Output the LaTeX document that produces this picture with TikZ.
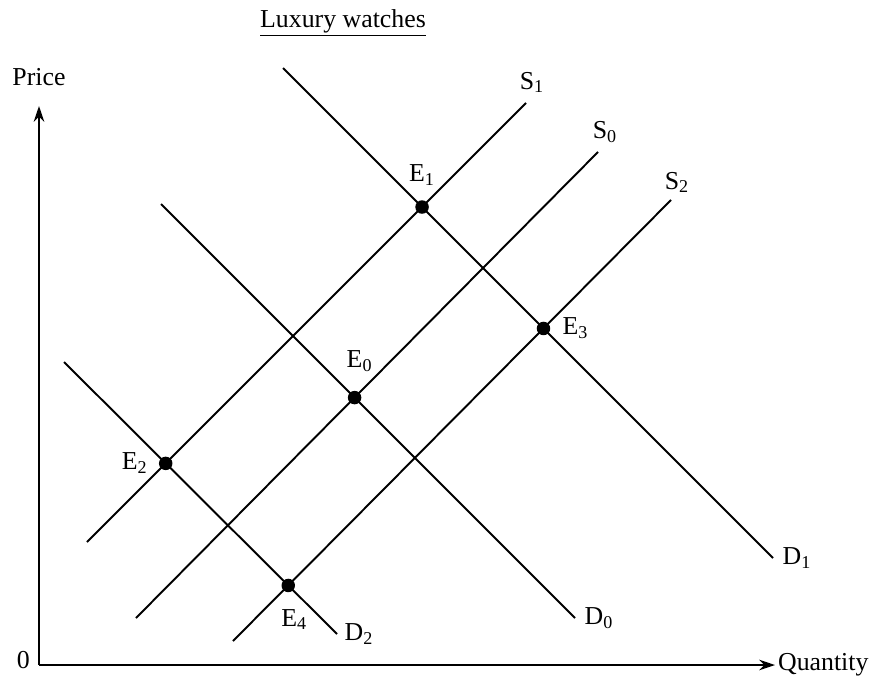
\documentclass[tikz,border=0pt]{standalone}
\usepackage{fontspec}
\setmainfont{Liberation Serif}
\usetikzlibrary{positioning, arrows.meta}

\begin{document}
\begin{tikzpicture}[
    x=0.02cm, y=-0.02cm,
    curve/.style = {line width=1.1pt},
    axis/.style  = {line width=1.1pt, -{Stealth[length=9pt, width=6pt]}},
    eq/.style    = {circle, fill, inner sep=0pt, minimum size=0.27cm},
    lbl/.style   = {inner sep=1pt, font=\fontsize{14.7}{17}\selectfont}
]
\useasboundingbox (0,0) rectangle (874,679);

% Achsen
\coordinate (O)    at (39,665);
\coordinate (ytop) at (39,106);
\coordinate (xend) at (775,665);
\draw[axis] (O) -- (ytop);
\draw[axis] (O) -- (xend);

% Endpunkte der Kurven
\coordinate (d1s) at (283,68);   \coordinate (d1e) at (773,558);
\coordinate (d0s) at (161,204);  \coordinate (d0e) at (575,618);
\coordinate (d2s) at (64,362);   \coordinate (d2e) at (337,634);
\coordinate (s1s) at (87,542);   \coordinate (s1e) at (526,103);
\coordinate (s0s) at (136,618);  \coordinate (s0e) at (598,152);
\coordinate (s2s) at (233,641);  \coordinate (s2e) at (671,200);

% Nachfrage und Angebot
\draw[curve] (d1s) -- (d1e);
\draw[curve] (d0s) -- (d0e);
\draw[curve] (d2s) -- (d2e);
\draw[curve] (s1s) -- (s1e);
\draw[curve] (s0s) -- (s0e);
\draw[curve] (s2s) -- (s2e);

% Gleichgewichte
\node[eq] (E0) at (intersection of d0s--d0e and s0s--s0e) {};
\node[eq] (E1) at (intersection of d1s--d1e and s1s--s1e) {};
\node[eq] (E2) at (intersection of d2s--d2e and s1s--s1e) {};
\node[eq] (E3) at (intersection of d1s--d1e and s2s--s2e) {};
\node[eq] (E4) at (intersection of d2s--d2e and s2s--s2e) {};

% Beschriftungen
\node[lbl] (title) at (343,23) {\underline{Luxury watches}};
\node[lbl, above=0.36cm of ytop] (price) {Price};
\node[lbl, left=0.14cm of O, yshift=0.1cm] (zero) {0};
\node[lbl, right=0.02cm of xend] (qty) {Quantity};

\node[lbl, above=0.25cm of E1]              (E1l) {E\textsubscript{1}};
\node[lbl, above=0.33cm of E0, xshift=0.1cm] (E0l) {E\textsubscript{0}};
\node[lbl, right=0.2cm of E3]               (E3l) {E\textsubscript{3}};
\node[lbl, left=0.18cm of E2]               (E2l) {E\textsubscript{2}};
\node[lbl, below=0.29cm of E4, xshift=0.12cm] (E4l) {E\textsubscript{4}};

\node[lbl, above=0.16cm of s1e, xshift=0.12cm] (S1l) {S\textsubscript{1}};
\node[lbl, above=0.14cm of s0e, xshift=0.14cm] (S0l) {S\textsubscript{0}};
\node[lbl, above=0.1cm of s2e, xshift=0.12cm]  (S2l) {S\textsubscript{2}};
\node[lbl, right=0.15cm of d1e] (D1l) {D\textsubscript{1}};
\node[lbl, right=0.15cm of d0e] (D0l) {D\textsubscript{0}};
\node[lbl, right=0.11cm of d2e] (D2l) {D\textsubscript{2}};

\end{tikzpicture}
\end{document}
